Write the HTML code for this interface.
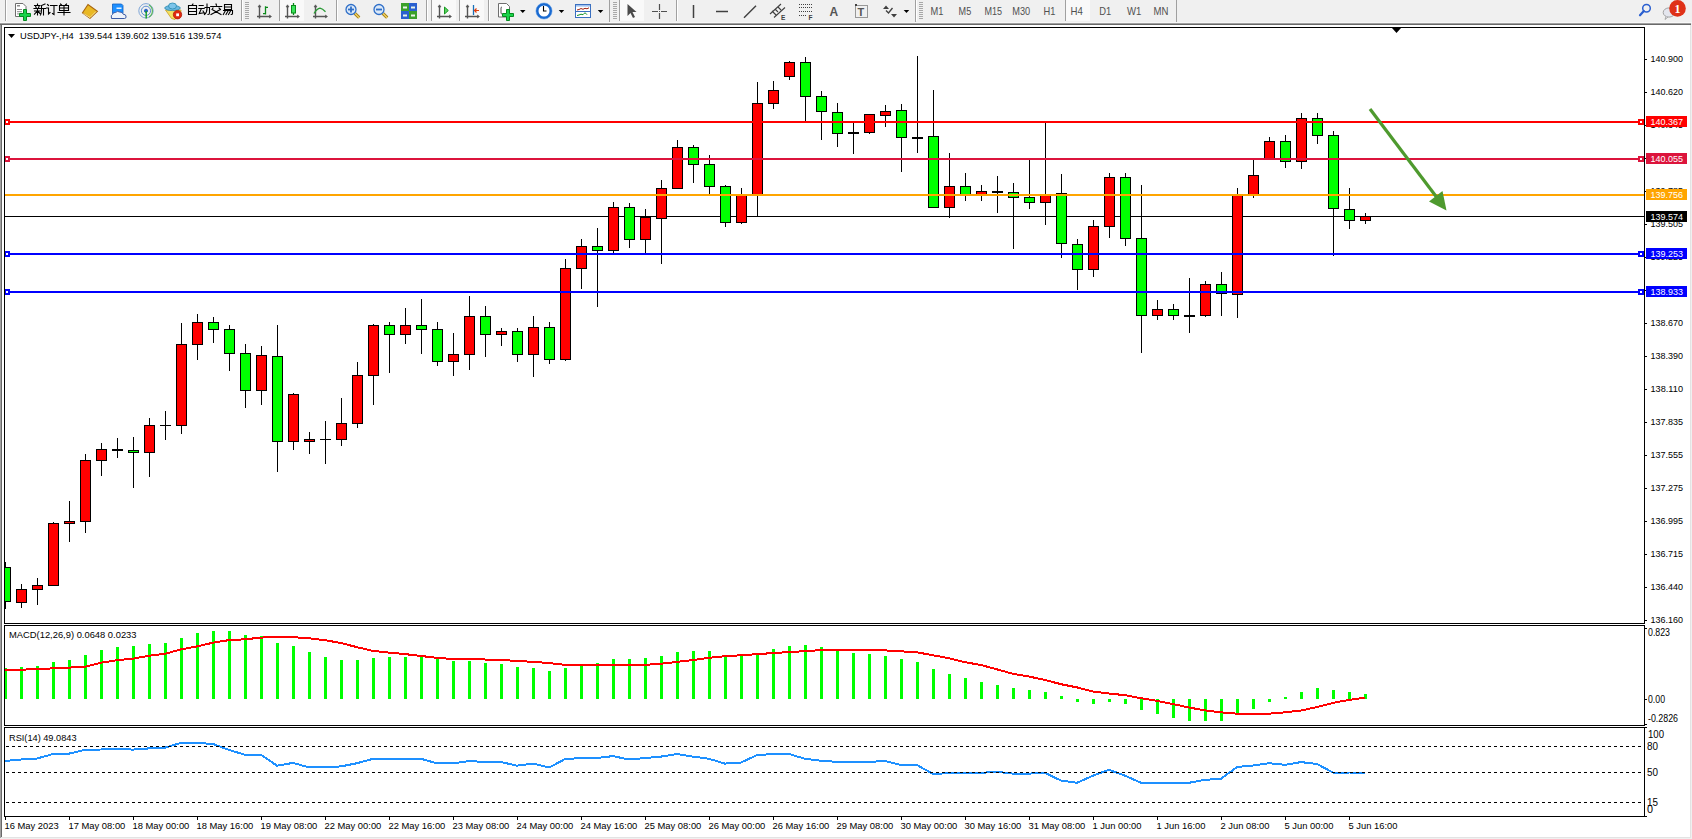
<!DOCTYPE html><html><head><meta charset="utf-8"><style>html,body{margin:0;padding:0;}body{width:1692px;height:839px;overflow:hidden;background:#f0f0f0;position:relative;font-family:"Liberation Sans",sans-serif;}svg{position:absolute;left:0;top:0;}</style></head><body>
<svg width="1692" height="839" viewBox="0 0 1692 839">
<g shape-rendering="crispEdges">
<rect x="0" y="0" width="1692" height="22" fill="#f0f0f0"/>
<rect x="0" y="22" width="1692" height="1" fill="#f8f8f8"/>
<rect x="0" y="23" width="1691" height="1" fill="#a0a0a0"/>
<rect x="0" y="24" width="1691" height="1" fill="#696969"/>
<rect x="0" y="25" width="1" height="814" fill="#a0a0a0"/>
<rect x="1" y="25" width="1" height="812" fill="#696969"/>
<rect x="2" y="25" width="1688" height="812" fill="#ffffff"/>
<rect x="1690" y="25" width="1" height="813" fill="#e3e3e3"/>
<rect x="1" y="837" width="1690" height="1" fill="#e3e3e3"/>
<rect x="1691" y="23" width="1" height="816" fill="#f0f0f0"/>
<rect x="0" y="838" width="1692" height="1" fill="#f0f0f0"/>
<rect x="4" y="27" width="1641" height="1" fill="#000"/>
<rect x="4" y="623" width="1641" height="1" fill="#000"/>
<rect x="4" y="27" width="1" height="597" fill="#000"/>
<rect x="1644" y="27" width="1" height="597" fill="#000"/>
<rect x="4" y="625" width="1641" height="1" fill="#000"/>
<rect x="4" y="725" width="1641" height="1" fill="#000"/>
<rect x="4" y="625" width="1" height="101" fill="#000"/>
<rect x="1644" y="625" width="1" height="101" fill="#000"/>
<rect x="4" y="727" width="1641" height="1" fill="#000"/>
<rect x="4" y="816" width="1641" height="1" fill="#000"/>
<rect x="4" y="727" width="1" height="90" fill="#000"/>
<rect x="1644" y="727" width="1" height="90" fill="#000"/>
</g>
<polygon points="1392,28 1401,28 1396.5,33" fill="#000"/>
<g shape-rendering="crispEdges">
<clipPath id="cm"><rect x="5" y="28" width="1639" height="595"/></clipPath>
<g clip-path="url(#cm)">
<rect x="5" y="216" width="1639" height="1" fill="#000"/>
<rect x="5" y="562" width="1" height="47" fill="#000"/>
<rect x="0" y="567" width="11" height="35" fill="#000"/>
<rect x="1" y="568" width="9" height="33" fill="#00ff00"/>
<rect x="21" y="584" width="1" height="24" fill="#000"/>
<rect x="16" y="589" width="11" height="14" fill="#000"/>
<rect x="17" y="590" width="9" height="12" fill="#ff0000"/>
<rect x="37" y="578" width="1" height="27" fill="#000"/>
<rect x="32" y="585" width="11" height="5" fill="#000"/>
<rect x="33" y="586" width="9" height="3" fill="#ff0000"/>
<rect x="53" y="522" width="1" height="64" fill="#000"/>
<rect x="48" y="523" width="11" height="63" fill="#000"/>
<rect x="49" y="524" width="9" height="61" fill="#ff0000"/>
<rect x="69" y="501" width="1" height="41" fill="#000"/>
<rect x="64" y="521" width="11" height="3" fill="#000"/>
<rect x="65" y="522" width="9" height="1" fill="#ff0000"/>
<rect x="85" y="454" width="1" height="79" fill="#000"/>
<rect x="80" y="460" width="11" height="62" fill="#000"/>
<rect x="81" y="461" width="9" height="60" fill="#ff0000"/>
<rect x="101" y="443" width="1" height="33" fill="#000"/>
<rect x="96" y="449" width="11" height="12" fill="#000"/>
<rect x="97" y="450" width="9" height="10" fill="#ff0000"/>
<rect x="117" y="438" width="1" height="20" fill="#000"/>
<rect x="112" y="449" width="11" height="2" fill="#000"/>
<rect x="133" y="437" width="1" height="51" fill="#000"/>
<rect x="128" y="450" width="11" height="3" fill="#000"/>
<rect x="129" y="451" width="9" height="1" fill="#00ff00"/>
<rect x="149" y="418" width="1" height="59" fill="#000"/>
<rect x="144" y="425" width="11" height="28" fill="#000"/>
<rect x="145" y="426" width="9" height="26" fill="#ff0000"/>
<rect x="165" y="411" width="1" height="29" fill="#000"/>
<rect x="160" y="425" width="11" height="1" fill="#000"/>
<rect x="181" y="323" width="1" height="111" fill="#000"/>
<rect x="176" y="344" width="11" height="82" fill="#000"/>
<rect x="177" y="345" width="9" height="80" fill="#ff0000"/>
<rect x="197" y="314" width="1" height="46" fill="#000"/>
<rect x="192" y="322" width="11" height="23" fill="#000"/>
<rect x="193" y="323" width="9" height="21" fill="#ff0000"/>
<rect x="213" y="317" width="1" height="26" fill="#000"/>
<rect x="208" y="322" width="11" height="8" fill="#000"/>
<rect x="209" y="323" width="9" height="6" fill="#00ff00"/>
<rect x="229" y="325" width="1" height="46" fill="#000"/>
<rect x="224" y="329" width="11" height="25" fill="#000"/>
<rect x="225" y="330" width="9" height="23" fill="#00ff00"/>
<rect x="245" y="344" width="1" height="64" fill="#000"/>
<rect x="240" y="353" width="11" height="38" fill="#000"/>
<rect x="241" y="354" width="9" height="36" fill="#00ff00"/>
<rect x="261" y="346" width="1" height="59" fill="#000"/>
<rect x="256" y="355" width="11" height="36" fill="#000"/>
<rect x="257" y="356" width="9" height="34" fill="#ff0000"/>
<rect x="277" y="325" width="1" height="147" fill="#000"/>
<rect x="272" y="356" width="11" height="86" fill="#000"/>
<rect x="273" y="357" width="9" height="84" fill="#00ff00"/>
<rect x="293" y="393" width="1" height="57" fill="#000"/>
<rect x="288" y="394" width="11" height="48" fill="#000"/>
<rect x="289" y="395" width="9" height="46" fill="#ff0000"/>
<rect x="309" y="432" width="1" height="22" fill="#000"/>
<rect x="304" y="439" width="11" height="3" fill="#000"/>
<rect x="305" y="440" width="9" height="1" fill="#ff0000"/>
<rect x="325" y="421" width="1" height="43" fill="#000"/>
<rect x="320" y="439" width="11" height="1" fill="#000"/>
<rect x="341" y="398" width="1" height="48" fill="#000"/>
<rect x="336" y="423" width="11" height="17" fill="#000"/>
<rect x="337" y="424" width="9" height="15" fill="#ff0000"/>
<rect x="357" y="362" width="1" height="66" fill="#000"/>
<rect x="352" y="375" width="11" height="49" fill="#000"/>
<rect x="353" y="376" width="9" height="47" fill="#ff0000"/>
<rect x="373" y="324" width="1" height="81" fill="#000"/>
<rect x="368" y="325" width="11" height="51" fill="#000"/>
<rect x="369" y="326" width="9" height="49" fill="#ff0000"/>
<rect x="389" y="322" width="1" height="51" fill="#000"/>
<rect x="384" y="325" width="11" height="10" fill="#000"/>
<rect x="385" y="326" width="9" height="8" fill="#00ff00"/>
<rect x="405" y="308" width="1" height="36" fill="#000"/>
<rect x="400" y="325" width="11" height="10" fill="#000"/>
<rect x="401" y="326" width="9" height="8" fill="#ff0000"/>
<rect x="421" y="299" width="1" height="55" fill="#000"/>
<rect x="416" y="325" width="11" height="5" fill="#000"/>
<rect x="417" y="326" width="9" height="3" fill="#00ff00"/>
<rect x="437" y="322" width="1" height="44" fill="#000"/>
<rect x="432" y="329" width="11" height="33" fill="#000"/>
<rect x="433" y="330" width="9" height="31" fill="#00ff00"/>
<rect x="453" y="333" width="1" height="43" fill="#000"/>
<rect x="448" y="354" width="11" height="8" fill="#000"/>
<rect x="449" y="355" width="9" height="6" fill="#ff0000"/>
<rect x="469" y="296" width="1" height="74" fill="#000"/>
<rect x="464" y="316" width="11" height="39" fill="#000"/>
<rect x="465" y="317" width="9" height="37" fill="#ff0000"/>
<rect x="485" y="306" width="1" height="51" fill="#000"/>
<rect x="480" y="316" width="11" height="19" fill="#000"/>
<rect x="481" y="317" width="9" height="17" fill="#00ff00"/>
<rect x="501" y="328" width="1" height="18" fill="#000"/>
<rect x="496" y="331" width="11" height="4" fill="#000"/>
<rect x="497" y="332" width="9" height="2" fill="#ff0000"/>
<rect x="517" y="328" width="1" height="34" fill="#000"/>
<rect x="512" y="331" width="11" height="24" fill="#000"/>
<rect x="513" y="332" width="9" height="22" fill="#00ff00"/>
<rect x="533" y="316" width="1" height="61" fill="#000"/>
<rect x="528" y="327" width="11" height="28" fill="#000"/>
<rect x="529" y="328" width="9" height="26" fill="#ff0000"/>
<rect x="549" y="322" width="1" height="42" fill="#000"/>
<rect x="544" y="327" width="11" height="33" fill="#000"/>
<rect x="545" y="328" width="9" height="31" fill="#00ff00"/>
<rect x="565" y="259" width="1" height="102" fill="#000"/>
<rect x="560" y="268" width="11" height="92" fill="#000"/>
<rect x="561" y="269" width="9" height="90" fill="#ff0000"/>
<rect x="581" y="239" width="1" height="50" fill="#000"/>
<rect x="576" y="246" width="11" height="23" fill="#000"/>
<rect x="577" y="247" width="9" height="21" fill="#ff0000"/>
<rect x="597" y="228" width="1" height="79" fill="#000"/>
<rect x="592" y="246" width="11" height="5" fill="#000"/>
<rect x="593" y="247" width="9" height="3" fill="#00ff00"/>
<rect x="613" y="202" width="1" height="51" fill="#000"/>
<rect x="608" y="207" width="11" height="44" fill="#000"/>
<rect x="609" y="208" width="9" height="42" fill="#ff0000"/>
<rect x="629" y="203" width="1" height="45" fill="#000"/>
<rect x="624" y="207" width="11" height="33" fill="#000"/>
<rect x="625" y="208" width="9" height="31" fill="#00ff00"/>
<rect x="645" y="209" width="1" height="45" fill="#000"/>
<rect x="640" y="217" width="11" height="23" fill="#000"/>
<rect x="641" y="218" width="9" height="21" fill="#ff0000"/>
<rect x="661" y="180" width="1" height="84" fill="#000"/>
<rect x="656" y="188" width="11" height="31" fill="#000"/>
<rect x="657" y="189" width="9" height="29" fill="#ff0000"/>
<rect x="677" y="140" width="1" height="49" fill="#000"/>
<rect x="672" y="147" width="11" height="42" fill="#000"/>
<rect x="673" y="148" width="9" height="40" fill="#ff0000"/>
<rect x="693" y="145" width="1" height="38" fill="#000"/>
<rect x="688" y="147" width="11" height="18" fill="#000"/>
<rect x="689" y="148" width="9" height="16" fill="#00ff00"/>
<rect x="709" y="155" width="1" height="40" fill="#000"/>
<rect x="704" y="164" width="11" height="23" fill="#000"/>
<rect x="705" y="165" width="9" height="21" fill="#00ff00"/>
<rect x="725" y="185" width="1" height="42" fill="#000"/>
<rect x="720" y="186" width="11" height="37" fill="#000"/>
<rect x="721" y="187" width="9" height="35" fill="#00ff00"/>
<rect x="741" y="188" width="1" height="36" fill="#000"/>
<rect x="736" y="194" width="11" height="29" fill="#000"/>
<rect x="737" y="195" width="9" height="27" fill="#ff0000"/>
<rect x="757" y="82" width="1" height="135" fill="#000"/>
<rect x="752" y="103" width="11" height="92" fill="#000"/>
<rect x="753" y="104" width="9" height="90" fill="#ff0000"/>
<rect x="773" y="81" width="1" height="28" fill="#000"/>
<rect x="768" y="90" width="11" height="14" fill="#000"/>
<rect x="769" y="91" width="9" height="12" fill="#ff0000"/>
<rect x="789" y="61" width="1" height="19" fill="#000"/>
<rect x="784" y="62" width="11" height="15" fill="#000"/>
<rect x="785" y="63" width="9" height="13" fill="#ff0000"/>
<rect x="805" y="57" width="1" height="64" fill="#000"/>
<rect x="800" y="62" width="11" height="35" fill="#000"/>
<rect x="801" y="63" width="9" height="33" fill="#00ff00"/>
<rect x="821" y="91" width="1" height="49" fill="#000"/>
<rect x="816" y="96" width="11" height="16" fill="#000"/>
<rect x="817" y="97" width="9" height="14" fill="#00ff00"/>
<rect x="837" y="103" width="1" height="44" fill="#000"/>
<rect x="832" y="112" width="11" height="22" fill="#000"/>
<rect x="833" y="113" width="9" height="20" fill="#00ff00"/>
<rect x="853" y="123" width="1" height="31" fill="#000"/>
<rect x="848" y="132" width="11" height="2" fill="#000"/>
<rect x="869" y="114" width="1" height="20" fill="#000"/>
<rect x="864" y="114" width="11" height="19" fill="#000"/>
<rect x="865" y="115" width="9" height="17" fill="#ff0000"/>
<rect x="885" y="105" width="1" height="22" fill="#000"/>
<rect x="880" y="111" width="11" height="5" fill="#000"/>
<rect x="881" y="112" width="9" height="3" fill="#ff0000"/>
<rect x="901" y="104" width="1" height="68" fill="#000"/>
<rect x="896" y="110" width="11" height="28" fill="#000"/>
<rect x="897" y="111" width="9" height="26" fill="#00ff00"/>
<rect x="917" y="56" width="1" height="97" fill="#000"/>
<rect x="912" y="137" width="11" height="2" fill="#000"/>
<rect x="933" y="90" width="1" height="118" fill="#000"/>
<rect x="928" y="136" width="11" height="72" fill="#000"/>
<rect x="929" y="137" width="9" height="70" fill="#00ff00"/>
<rect x="949" y="153" width="1" height="65" fill="#000"/>
<rect x="944" y="186" width="11" height="22" fill="#000"/>
<rect x="945" y="187" width="9" height="20" fill="#ff0000"/>
<rect x="965" y="173" width="1" height="28" fill="#000"/>
<rect x="960" y="186" width="11" height="10" fill="#000"/>
<rect x="961" y="187" width="9" height="8" fill="#00ff00"/>
<rect x="981" y="185" width="1" height="16" fill="#000"/>
<rect x="976" y="191" width="11" height="5" fill="#000"/>
<rect x="977" y="192" width="9" height="3" fill="#ff0000"/>
<rect x="997" y="176" width="1" height="37" fill="#000"/>
<rect x="992" y="191" width="11" height="2" fill="#000"/>
<rect x="1013" y="183" width="1" height="66" fill="#000"/>
<rect x="1008" y="192" width="11" height="6" fill="#000"/>
<rect x="1009" y="193" width="9" height="4" fill="#00ff00"/>
<rect x="1029" y="159" width="1" height="50" fill="#000"/>
<rect x="1024" y="197" width="11" height="6" fill="#000"/>
<rect x="1025" y="198" width="9" height="4" fill="#00ff00"/>
<rect x="1045" y="122" width="1" height="103" fill="#000"/>
<rect x="1040" y="195" width="11" height="8" fill="#000"/>
<rect x="1041" y="196" width="9" height="6" fill="#ff0000"/>
<rect x="1061" y="174" width="1" height="84" fill="#000"/>
<rect x="1056" y="193" width="11" height="51" fill="#000"/>
<rect x="1057" y="194" width="9" height="49" fill="#00ff00"/>
<rect x="1077" y="239" width="1" height="51" fill="#000"/>
<rect x="1072" y="244" width="11" height="26" fill="#000"/>
<rect x="1073" y="245" width="9" height="24" fill="#00ff00"/>
<rect x="1093" y="220" width="1" height="57" fill="#000"/>
<rect x="1088" y="226" width="11" height="44" fill="#000"/>
<rect x="1089" y="227" width="9" height="42" fill="#ff0000"/>
<rect x="1109" y="173" width="1" height="65" fill="#000"/>
<rect x="1104" y="177" width="11" height="50" fill="#000"/>
<rect x="1105" y="178" width="9" height="48" fill="#ff0000"/>
<rect x="1125" y="173" width="1" height="73" fill="#000"/>
<rect x="1120" y="177" width="11" height="62" fill="#000"/>
<rect x="1121" y="178" width="9" height="60" fill="#00ff00"/>
<rect x="1141" y="185" width="1" height="168" fill="#000"/>
<rect x="1136" y="238" width="11" height="78" fill="#000"/>
<rect x="1137" y="239" width="9" height="76" fill="#00ff00"/>
<rect x="1157" y="300" width="1" height="20" fill="#000"/>
<rect x="1152" y="309" width="11" height="7" fill="#000"/>
<rect x="1153" y="310" width="9" height="5" fill="#ff0000"/>
<rect x="1173" y="304" width="1" height="16" fill="#000"/>
<rect x="1168" y="309" width="11" height="7" fill="#000"/>
<rect x="1169" y="310" width="9" height="5" fill="#00ff00"/>
<rect x="1189" y="278" width="1" height="55" fill="#000"/>
<rect x="1184" y="315" width="11" height="2" fill="#000"/>
<rect x="1205" y="281" width="1" height="36" fill="#000"/>
<rect x="1200" y="284" width="11" height="32" fill="#000"/>
<rect x="1201" y="285" width="9" height="30" fill="#ff0000"/>
<rect x="1221" y="272" width="1" height="44" fill="#000"/>
<rect x="1216" y="284" width="11" height="10" fill="#000"/>
<rect x="1217" y="285" width="9" height="8" fill="#00ff00"/>
<rect x="1237" y="188" width="1" height="130" fill="#000"/>
<rect x="1232" y="195" width="11" height="100" fill="#000"/>
<rect x="1233" y="196" width="9" height="98" fill="#ff0000"/>
<rect x="1253" y="159" width="1" height="39" fill="#000"/>
<rect x="1248" y="175" width="11" height="21" fill="#000"/>
<rect x="1249" y="176" width="9" height="19" fill="#ff0000"/>
<rect x="1269" y="137" width="1" height="23" fill="#000"/>
<rect x="1264" y="141" width="11" height="19" fill="#000"/>
<rect x="1265" y="142" width="9" height="17" fill="#ff0000"/>
<rect x="1285" y="135" width="1" height="33" fill="#000"/>
<rect x="1280" y="141" width="11" height="21" fill="#000"/>
<rect x="1281" y="142" width="9" height="19" fill="#00ff00"/>
<rect x="1301" y="113" width="1" height="56" fill="#000"/>
<rect x="1296" y="118" width="11" height="44" fill="#000"/>
<rect x="1297" y="119" width="9" height="42" fill="#ff0000"/>
<rect x="1317" y="113" width="1" height="31" fill="#000"/>
<rect x="1312" y="118" width="11" height="18" fill="#000"/>
<rect x="1313" y="119" width="9" height="16" fill="#00ff00"/>
<rect x="1333" y="131" width="1" height="125" fill="#000"/>
<rect x="1328" y="135" width="11" height="74" fill="#000"/>
<rect x="1329" y="136" width="9" height="72" fill="#00ff00"/>
<rect x="1349" y="188" width="1" height="41" fill="#000"/>
<rect x="1344" y="209" width="11" height="12" fill="#000"/>
<rect x="1345" y="210" width="9" height="10" fill="#00ff00"/>
<rect x="1365" y="213" width="1" height="11" fill="#000"/>
<rect x="1360" y="216" width="11" height="5" fill="#000"/>
<rect x="1361" y="217" width="9" height="3" fill="#ff0000"/>
<rect x="5" y="121" width="1639" height="2" fill="#ff0000"/>
<rect x="4" y="119" width="6" height="6" fill="#ff0000"/>
<rect x="6" y="121" width="2" height="2" fill="#ffffff"/>
<rect x="1638" y="119" width="6" height="6" fill="#ff0000"/>
<rect x="1640" y="121" width="2" height="2" fill="#ffffff"/>
<rect x="5" y="158" width="1639" height="2" fill="#dc143c"/>
<rect x="4" y="156" width="6" height="6" fill="#dc143c"/>
<rect x="6" y="158" width="2" height="2" fill="#ffffff"/>
<rect x="1638" y="156" width="6" height="6" fill="#dc143c"/>
<rect x="1640" y="158" width="2" height="2" fill="#ffffff"/>
<rect x="5" y="194" width="1639" height="2" fill="#ffa500"/>
<rect x="5" y="253" width="1639" height="2" fill="#0000ff"/>
<rect x="4" y="251" width="6" height="6" fill="#0000ff"/>
<rect x="6" y="253" width="2" height="2" fill="#ffffff"/>
<rect x="1638" y="251" width="6" height="6" fill="#0000ff"/>
<rect x="1640" y="253" width="2" height="2" fill="#ffffff"/>
<rect x="5" y="291" width="1639" height="2" fill="#0000ff"/>
<rect x="4" y="289" width="6" height="6" fill="#0000ff"/>
<rect x="6" y="291" width="2" height="2" fill="#ffffff"/>
<rect x="1638" y="289" width="6" height="6" fill="#0000ff"/>
<rect x="1640" y="291" width="2" height="2" fill="#ffffff"/>
</g>
<clipPath id="cmacd"><rect x="5" y="626" width="1639" height="99"/></clipPath><g clip-path="url(#cmacd)">
<rect x="4" y="668" width="3" height="31" fill="#00ff00"/>
<rect x="20" y="667" width="3" height="32" fill="#00ff00"/>
<rect x="36" y="666" width="3" height="33" fill="#00ff00"/>
<rect x="52" y="662" width="3" height="37" fill="#00ff00"/>
<rect x="68" y="660" width="3" height="39" fill="#00ff00"/>
<rect x="84" y="655" width="3" height="44" fill="#00ff00"/>
<rect x="100" y="650" width="3" height="49" fill="#00ff00"/>
<rect x="116" y="647" width="3" height="52" fill="#00ff00"/>
<rect x="132" y="646" width="3" height="53" fill="#00ff00"/>
<rect x="148" y="644" width="3" height="55" fill="#00ff00"/>
<rect x="164" y="643" width="3" height="56" fill="#00ff00"/>
<rect x="180" y="638" width="3" height="61" fill="#00ff00"/>
<rect x="196" y="633" width="3" height="66" fill="#00ff00"/>
<rect x="212" y="631" width="3" height="68" fill="#00ff00"/>
<rect x="228" y="631" width="3" height="68" fill="#00ff00"/>
<rect x="244" y="635" width="3" height="64" fill="#00ff00"/>
<rect x="260" y="636" width="3" height="63" fill="#00ff00"/>
<rect x="276" y="643" width="3" height="56" fill="#00ff00"/>
<rect x="292" y="646" width="3" height="53" fill="#00ff00"/>
<rect x="308" y="652" width="3" height="47" fill="#00ff00"/>
<rect x="324" y="657" width="3" height="42" fill="#00ff00"/>
<rect x="340" y="660" width="3" height="39" fill="#00ff00"/>
<rect x="356" y="660" width="3" height="39" fill="#00ff00"/>
<rect x="372" y="658" width="3" height="41" fill="#00ff00"/>
<rect x="388" y="657" width="3" height="42" fill="#00ff00"/>
<rect x="404" y="657" width="3" height="42" fill="#00ff00"/>
<rect x="420" y="657" width="3" height="42" fill="#00ff00"/>
<rect x="436" y="659" width="3" height="40" fill="#00ff00"/>
<rect x="452" y="661" width="3" height="38" fill="#00ff00"/>
<rect x="468" y="661" width="3" height="38" fill="#00ff00"/>
<rect x="484" y="663" width="3" height="36" fill="#00ff00"/>
<rect x="500" y="664" width="3" height="35" fill="#00ff00"/>
<rect x="516" y="667" width="3" height="32" fill="#00ff00"/>
<rect x="532" y="668" width="3" height="31" fill="#00ff00"/>
<rect x="548" y="671" width="3" height="28" fill="#00ff00"/>
<rect x="564" y="668" width="3" height="31" fill="#00ff00"/>
<rect x="580" y="665" width="3" height="34" fill="#00ff00"/>
<rect x="596" y="663" width="3" height="36" fill="#00ff00"/>
<rect x="612" y="659" width="3" height="40" fill="#00ff00"/>
<rect x="628" y="659" width="3" height="40" fill="#00ff00"/>
<rect x="644" y="658" width="3" height="41" fill="#00ff00"/>
<rect x="660" y="656" width="3" height="43" fill="#00ff00"/>
<rect x="676" y="652" width="3" height="47" fill="#00ff00"/>
<rect x="692" y="651" width="3" height="48" fill="#00ff00"/>
<rect x="708" y="651" width="3" height="48" fill="#00ff00"/>
<rect x="724" y="655" width="3" height="44" fill="#00ff00"/>
<rect x="740" y="656" width="3" height="43" fill="#00ff00"/>
<rect x="756" y="653" width="3" height="46" fill="#00ff00"/>
<rect x="772" y="649" width="3" height="50" fill="#00ff00"/>
<rect x="788" y="646" width="3" height="53" fill="#00ff00"/>
<rect x="804" y="645" width="3" height="54" fill="#00ff00"/>
<rect x="820" y="647" width="3" height="52" fill="#00ff00"/>
<rect x="836" y="651" width="3" height="48" fill="#00ff00"/>
<rect x="852" y="653" width="3" height="46" fill="#00ff00"/>
<rect x="868" y="654" width="3" height="45" fill="#00ff00"/>
<rect x="884" y="656" width="3" height="43" fill="#00ff00"/>
<rect x="900" y="659" width="3" height="40" fill="#00ff00"/>
<rect x="916" y="662" width="3" height="37" fill="#00ff00"/>
<rect x="932" y="669" width="3" height="30" fill="#00ff00"/>
<rect x="948" y="674" width="3" height="25" fill="#00ff00"/>
<rect x="964" y="678" width="3" height="21" fill="#00ff00"/>
<rect x="980" y="682" width="3" height="17" fill="#00ff00"/>
<rect x="996" y="685" width="3" height="14" fill="#00ff00"/>
<rect x="1012" y="688" width="3" height="11" fill="#00ff00"/>
<rect x="1028" y="690" width="3" height="9" fill="#00ff00"/>
<rect x="1044" y="692" width="3" height="7" fill="#00ff00"/>
<rect x="1060" y="696" width="3" height="3" fill="#00ff00"/>
<rect x="1076" y="699" width="3" height="3" fill="#00ff00"/>
<rect x="1092" y="699" width="3" height="5" fill="#00ff00"/>
<rect x="1108" y="699" width="3" height="3" fill="#00ff00"/>
<rect x="1124" y="699" width="3" height="5" fill="#00ff00"/>
<rect x="1140" y="699" width="3" height="11" fill="#00ff00"/>
<rect x="1156" y="699" width="3" height="15" fill="#00ff00"/>
<rect x="1172" y="699" width="3" height="19" fill="#00ff00"/>
<rect x="1188" y="699" width="3" height="22" fill="#00ff00"/>
<rect x="1204" y="699" width="3" height="22" fill="#00ff00"/>
<rect x="1220" y="699" width="3" height="22" fill="#00ff00"/>
<rect x="1236" y="699" width="3" height="16" fill="#00ff00"/>
<rect x="1252" y="699" width="3" height="10" fill="#00ff00"/>
<rect x="1268" y="699" width="3" height="3" fill="#00ff00"/>
<rect x="1284" y="697" width="3" height="2" fill="#00ff00"/>
<rect x="1300" y="692" width="3" height="7" fill="#00ff00"/>
<rect x="1316" y="688" width="3" height="11" fill="#00ff00"/>
<rect x="1332" y="690" width="3" height="9" fill="#00ff00"/>
<rect x="1348" y="692" width="3" height="7" fill="#00ff00"/>
<rect x="1364" y="694" width="3" height="5" fill="#00ff00"/>
</g>
</g>
<g clip-path="url(#cmacd)"><polyline points="5,669.6 21,669.6 37,669.3 53,668.3 69,667.6 85,666.8 101,662.7 117,660.2 133,658.7 149,655.7 165,653.8 181,649.4 197,646.4 213,642.7 229,640.1 245,639.3 261,637.6 277,636.8 293,637.1 309,638.3 325,640.2 341,643.0 357,647.2 373,650.9 389,652.6 405,654.1 421,656.0 437,657.8 453,659.0 469,659.0 485,659.5 501,660.0 517,660.9 533,661.9 549,663.0 565,664.9 581,664.9 597,664.9 613,664.9 629,664.9 645,664.9 661,663.7 677,661.9 693,660.0 709,657.8 725,656.2 741,655.3 757,654.1 773,653.1 789,652.0 805,651.2 821,650.1 837,650.0 853,650.0 869,650.0 885,650.4 901,651.3 917,652.3 933,655.3 949,658.2 965,662.2 981,665.0 997,669.4 1013,673.8 1029,676.5 1045,680.0 1061,684.2 1077,687.4 1093,691.5 1109,693.5 1125,695.2 1141,698.2 1157,700.9 1173,704.1 1189,707.5 1205,710.4 1221,712.3 1237,713.7 1253,713.7 1269,713.7 1285,712.3 1301,710.6 1317,707.0 1333,702.9 1349,699.9 1365,697.6" fill="none" stroke="#ff0000" stroke-width="2" shape-rendering="crispEdges"/></g>
<polyline points="5,761.0 21,759.5 37,758.5 53,754.0 69,753.6 85,749.9 101,749.5 117,748.9 133,749.6 149,748.4 165,747.7 181,742.8 197,742.8 213,744.0 229,749.9 245,754.8 261,754.8 277,765.7 293,762.9 309,767.4 325,767.4 341,766.4 357,763.2 373,758.8 389,758.8 405,758.8 421,758.8 437,763.4 453,763.4 469,761.0 485,762.0 501,762.0 517,765.7 533,763.6 549,767.6 565,759.1 581,758.0 597,758.0 613,756.1 629,759.5 645,758.0 661,756.6 677,754.0 693,756.6 709,758.8 725,763.6 741,762.5 757,755.1 773,754.0 789,754.0 805,758.8 821,760.7 837,761.9 853,761.9 869,761.9 885,761.0 901,765.0 917,765.0 933,774.0 949,773.1 965,773.1 981,772.8 997,771.9 1013,773.6 1029,773.6 1045,772.8 1061,780.6 1077,782.8 1093,775.7 1109,769.8 1125,775.7 1141,782.8 1157,782.8 1173,782.8 1189,782.8 1205,779.8 1221,778.8 1237,767.0 1253,765.5 1269,763.2 1285,764.8 1301,762.1 1317,764.0 1333,772.5 1349,772.5 1365,772.9" fill="none" stroke="#1e90ff" stroke-width="2" shape-rendering="crispEdges"/>
<g shape-rendering="crispEdges">
<line x1="6" y1="746.5" x2="1641" y2="746.5" stroke="#000" stroke-width="1" stroke-dasharray="3,3"/>
<line x1="6" y1="772.5" x2="1641" y2="772.5" stroke="#000" stroke-width="1" stroke-dasharray="3,3"/>
<line x1="6" y1="802.5" x2="1641" y2="802.5" stroke="#000" stroke-width="1" stroke-dasharray="3,3"/>
</g>
<g fill="#4e9a2e" stroke="none"><line x1="1370" y1="109" x2="1438" y2="199" stroke="#4e9a2e" stroke-width="3.2"/><polygon points="1442.5,191 1429,201.5 1446.5,210.5"/></g>
<g shape-rendering="crispEdges">
<rect x="1645" y="59" width="2" height="1" fill="#000"/>
<rect x="1645" y="92" width="2" height="1" fill="#000"/>
<rect x="1645" y="125" width="2" height="1" fill="#000"/>
<rect x="1645" y="158" width="2" height="1" fill="#000"/>
<rect x="1645" y="191" width="2" height="1" fill="#000"/>
<rect x="1645" y="224" width="2" height="1" fill="#000"/>
<rect x="1645" y="257" width="2" height="1" fill="#000"/>
<rect x="1645" y="290" width="2" height="1" fill="#000"/>
<rect x="1645" y="323" width="2" height="1" fill="#000"/>
<rect x="1645" y="356" width="2" height="1" fill="#000"/>
<rect x="1645" y="389" width="2" height="1" fill="#000"/>
<rect x="1645" y="422" width="2" height="1" fill="#000"/>
<rect x="1645" y="455" width="2" height="1" fill="#000"/>
<rect x="1645" y="488" width="2" height="1" fill="#000"/>
<rect x="1645" y="521" width="2" height="1" fill="#000"/>
<rect x="1645" y="554" width="2" height="1" fill="#000"/>
<rect x="1645" y="587" width="2" height="1" fill="#000"/>
<rect x="1645" y="620" width="2" height="1" fill="#000"/>
<rect x="1645" y="628" width="2" height="1" fill="#000"/>
<rect x="1645" y="699" width="2" height="1" fill="#000"/>
<rect x="1645" y="724" width="2" height="1" fill="#000"/>
<rect x="1645" y="727" width="2" height="1" fill="#000"/>
<rect x="1645" y="816" width="2" height="1" fill="#000"/>
<rect x="5" y="817" width="1" height="3" fill="#000"/>
<rect x="69" y="817" width="1" height="3" fill="#000"/>
<rect x="133" y="817" width="1" height="3" fill="#000"/>
<rect x="197" y="817" width="1" height="3" fill="#000"/>
<rect x="261" y="817" width="1" height="3" fill="#000"/>
<rect x="325" y="817" width="1" height="3" fill="#000"/>
<rect x="389" y="817" width="1" height="3" fill="#000"/>
<rect x="453" y="817" width="1" height="3" fill="#000"/>
<rect x="517" y="817" width="1" height="3" fill="#000"/>
<rect x="581" y="817" width="1" height="3" fill="#000"/>
<rect x="645" y="817" width="1" height="3" fill="#000"/>
<rect x="709" y="817" width="1" height="3" fill="#000"/>
<rect x="773" y="817" width="1" height="3" fill="#000"/>
<rect x="837" y="817" width="1" height="3" fill="#000"/>
<rect x="901" y="817" width="1" height="3" fill="#000"/>
<rect x="965" y="817" width="1" height="3" fill="#000"/>
<rect x="1029" y="817" width="1" height="3" fill="#000"/>
<rect x="1093" y="817" width="1" height="3" fill="#000"/>
<rect x="1157" y="817" width="1" height="3" fill="#000"/>
<rect x="1221" y="817" width="1" height="3" fill="#000"/>
<rect x="1285" y="817" width="1" height="3" fill="#000"/>
<rect x="1349" y="817" width="1" height="3" fill="#000"/>
</g>
<text x="1650.5" y="62.4" font-family="Liberation Sans" font-size="9.6" fill="#000" textLength="32.5" lengthAdjust="spacingAndGlyphs" text-anchor="start" font-weight="normal">140.900</text>
<text x="1650.5" y="95.4" font-family="Liberation Sans" font-size="9.6" fill="#000" textLength="32.5" lengthAdjust="spacingAndGlyphs" text-anchor="start" font-weight="normal">140.620</text>
<text x="1650.5" y="128.4" font-family="Liberation Sans" font-size="9.6" fill="#000" textLength="32.5" lengthAdjust="spacingAndGlyphs" text-anchor="start" font-weight="normal">140.345</text>
<text x="1650.5" y="161.4" font-family="Liberation Sans" font-size="9.6" fill="#000" textLength="32.5" lengthAdjust="spacingAndGlyphs" text-anchor="start" font-weight="normal">140.065</text>
<text x="1650.5" y="194.4" font-family="Liberation Sans" font-size="9.6" fill="#000" textLength="32.5" lengthAdjust="spacingAndGlyphs" text-anchor="start" font-weight="normal">139.785</text>
<text x="1650.5" y="227.4" font-family="Liberation Sans" font-size="9.6" fill="#000" textLength="32.5" lengthAdjust="spacingAndGlyphs" text-anchor="start" font-weight="normal">139.505</text>
<text x="1650.5" y="260.4" font-family="Liberation Sans" font-size="9.6" fill="#000" textLength="32.5" lengthAdjust="spacingAndGlyphs" text-anchor="start" font-weight="normal">139.225</text>
<text x="1650.5" y="293.4" font-family="Liberation Sans" font-size="9.6" fill="#000" textLength="32.5" lengthAdjust="spacingAndGlyphs" text-anchor="start" font-weight="normal">138.945</text>
<text x="1650.5" y="326.4" font-family="Liberation Sans" font-size="9.6" fill="#000" textLength="32.5" lengthAdjust="spacingAndGlyphs" text-anchor="start" font-weight="normal">138.670</text>
<text x="1650.5" y="359.4" font-family="Liberation Sans" font-size="9.6" fill="#000" textLength="32.5" lengthAdjust="spacingAndGlyphs" text-anchor="start" font-weight="normal">138.390</text>
<text x="1650.5" y="392.4" font-family="Liberation Sans" font-size="9.6" fill="#000" textLength="32.5" lengthAdjust="spacingAndGlyphs" text-anchor="start" font-weight="normal">138.110</text>
<text x="1650.5" y="425.4" font-family="Liberation Sans" font-size="9.6" fill="#000" textLength="32.5" lengthAdjust="spacingAndGlyphs" text-anchor="start" font-weight="normal">137.835</text>
<text x="1650.5" y="458.4" font-family="Liberation Sans" font-size="9.6" fill="#000" textLength="32.5" lengthAdjust="spacingAndGlyphs" text-anchor="start" font-weight="normal">137.555</text>
<text x="1650.5" y="491.4" font-family="Liberation Sans" font-size="9.6" fill="#000" textLength="32.5" lengthAdjust="spacingAndGlyphs" text-anchor="start" font-weight="normal">137.275</text>
<text x="1650.5" y="524.4" font-family="Liberation Sans" font-size="9.6" fill="#000" textLength="32.5" lengthAdjust="spacingAndGlyphs" text-anchor="start" font-weight="normal">136.995</text>
<text x="1650.5" y="557.4" font-family="Liberation Sans" font-size="9.6" fill="#000" textLength="32.5" lengthAdjust="spacingAndGlyphs" text-anchor="start" font-weight="normal">136.715</text>
<text x="1650.5" y="590.4" font-family="Liberation Sans" font-size="9.6" fill="#000" textLength="32.5" lengthAdjust="spacingAndGlyphs" text-anchor="start" font-weight="normal">136.440</text>
<text x="1650.5" y="623.4" font-family="Liberation Sans" font-size="9.6" fill="#000" textLength="32.5" lengthAdjust="spacingAndGlyphs" text-anchor="start" font-weight="normal">136.160</text>
<rect x="1646" y="116" width="41" height="11" fill="#ff0000" shape-rendering="crispEdges"/>
<text x="1650.5" y="124.8" font-family="Liberation Sans" font-size="9.6" fill="#fff" textLength="32.5" lengthAdjust="spacingAndGlyphs" text-anchor="start" font-weight="normal">140.367</text>
<rect x="1646" y="153" width="41" height="11" fill="#dc143c" shape-rendering="crispEdges"/>
<text x="1650.5" y="161.8" font-family="Liberation Sans" font-size="9.6" fill="#fff" textLength="32.5" lengthAdjust="spacingAndGlyphs" text-anchor="start" font-weight="normal">140.055</text>
<rect x="1646" y="189" width="41" height="11" fill="#ffa500" shape-rendering="crispEdges"/>
<text x="1650.5" y="197.8" font-family="Liberation Sans" font-size="9.6" fill="#fff" textLength="32.5" lengthAdjust="spacingAndGlyphs" text-anchor="start" font-weight="normal">139.756</text>
<rect x="1646" y="211" width="41" height="11" fill="#000000" shape-rendering="crispEdges"/>
<text x="1650.5" y="219.8" font-family="Liberation Sans" font-size="9.6" fill="#fff" textLength="32.5" lengthAdjust="spacingAndGlyphs" text-anchor="start" font-weight="normal">139.574</text>
<rect x="1646" y="248" width="41" height="11" fill="#0000ff" shape-rendering="crispEdges"/>
<text x="1650.5" y="256.8" font-family="Liberation Sans" font-size="9.6" fill="#fff" textLength="32.5" lengthAdjust="spacingAndGlyphs" text-anchor="start" font-weight="normal">139.253</text>
<rect x="1646" y="286" width="41" height="11" fill="#0000ff" shape-rendering="crispEdges"/>
<text x="1650.5" y="294.8" font-family="Liberation Sans" font-size="9.6" fill="#fff" textLength="32.5" lengthAdjust="spacingAndGlyphs" text-anchor="start" font-weight="normal">138.933</text>
<text x="1648" y="636" font-family="Liberation Sans" font-size="10" fill="#000" textLength="22" lengthAdjust="spacingAndGlyphs" text-anchor="start" font-weight="normal">0.823</text>
<text x="1648" y="703" font-family="Liberation Sans" font-size="10" fill="#000" textLength="17" lengthAdjust="spacingAndGlyphs" text-anchor="start" font-weight="normal">0.00</text>
<text x="1648" y="722" font-family="Liberation Sans" font-size="10" fill="#000" textLength="30" lengthAdjust="spacingAndGlyphs" text-anchor="start" font-weight="normal">-0.2826</text>
<text x="1648" y="738" font-family="Liberation Sans" font-size="10" fill="#000" textLength="16" lengthAdjust="spacingAndGlyphs" text-anchor="start" font-weight="normal">100</text>
<text x="1647" y="750" font-family="Liberation Sans" font-size="10" fill="#000" textLength="11" lengthAdjust="spacingAndGlyphs" text-anchor="start" font-weight="normal">80</text>
<text x="1647" y="776" font-family="Liberation Sans" font-size="10" fill="#000" textLength="11" lengthAdjust="spacingAndGlyphs" text-anchor="start" font-weight="normal">50</text>
<text x="1647" y="806" font-family="Liberation Sans" font-size="10" fill="#000" textLength="11" lengthAdjust="spacingAndGlyphs" text-anchor="start" font-weight="normal">15</text>
<text x="1647" y="813" font-family="Liberation Sans" font-size="10" fill="#000" textLength="6" lengthAdjust="spacingAndGlyphs" text-anchor="start" font-weight="normal">0</text>
<text x="4.5" y="829.3" font-family="Liberation Sans" font-size="9.4" fill="#000">16 May 2023</text>
<text x="68.5" y="829.3" font-family="Liberation Sans" font-size="9.4" fill="#000">17 May 08:00</text>
<text x="132.5" y="829.3" font-family="Liberation Sans" font-size="9.4" fill="#000">18 May 00:00</text>
<text x="196.5" y="829.3" font-family="Liberation Sans" font-size="9.4" fill="#000">18 May 16:00</text>
<text x="260.5" y="829.3" font-family="Liberation Sans" font-size="9.4" fill="#000">19 May 08:00</text>
<text x="324.5" y="829.3" font-family="Liberation Sans" font-size="9.4" fill="#000">22 May 00:00</text>
<text x="388.5" y="829.3" font-family="Liberation Sans" font-size="9.4" fill="#000">22 May 16:00</text>
<text x="452.5" y="829.3" font-family="Liberation Sans" font-size="9.4" fill="#000">23 May 08:00</text>
<text x="516.5" y="829.3" font-family="Liberation Sans" font-size="9.4" fill="#000">24 May 00:00</text>
<text x="580.5" y="829.3" font-family="Liberation Sans" font-size="9.4" fill="#000">24 May 16:00</text>
<text x="644.5" y="829.3" font-family="Liberation Sans" font-size="9.4" fill="#000">25 May 08:00</text>
<text x="708.5" y="829.3" font-family="Liberation Sans" font-size="9.4" fill="#000">26 May 00:00</text>
<text x="772.5" y="829.3" font-family="Liberation Sans" font-size="9.4" fill="#000">26 May 16:00</text>
<text x="836.5" y="829.3" font-family="Liberation Sans" font-size="9.4" fill="#000">29 May 08:00</text>
<text x="900.5" y="829.3" font-family="Liberation Sans" font-size="9.4" fill="#000">30 May 00:00</text>
<text x="964.5" y="829.3" font-family="Liberation Sans" font-size="9.4" fill="#000">30 May 16:00</text>
<text x="1028.5" y="829.3" font-family="Liberation Sans" font-size="9.4" fill="#000">31 May 08:00</text>
<text x="1092.5" y="829.3" font-family="Liberation Sans" font-size="9.4" fill="#000">1 Jun 00:00</text>
<text x="1156.5" y="829.3" font-family="Liberation Sans" font-size="9.4" fill="#000">1 Jun 16:00</text>
<text x="1220.5" y="829.3" font-family="Liberation Sans" font-size="9.4" fill="#000">2 Jun 08:00</text>
<text x="1284.5" y="829.3" font-family="Liberation Sans" font-size="9.4" fill="#000">5 Jun 00:00</text>
<text x="1348.5" y="829.3" font-family="Liberation Sans" font-size="9.4" fill="#000">5 Jun 16:00</text>
<polygon points="8,34 15,34 11.5,38" fill="#000"/>
<text x="20" y="38.6" font-family="Liberation Sans" font-size="9.5" fill="#000" textLength="201.5" lengthAdjust="spacingAndGlyphs" text-anchor="start" font-weight="normal">USDJPY-,H4&#160;&#160;139.544 139.602 139.516 139.574</text>
<text x="9" y="637.8" font-family="Liberation Sans" font-size="9.5" fill="#000" textLength="127.5" lengthAdjust="spacingAndGlyphs" text-anchor="start" font-weight="normal">MACD(12,26,9) 0.0648 0.0233</text>
<text x="9" y="740.8" font-family="Liberation Sans" font-size="9.5" fill="#000" textLength="67.5" lengthAdjust="spacingAndGlyphs" text-anchor="start" font-weight="normal">RSI(14) 49.0843</text>
<rect x="5" y="0" width="1" height="21" fill="#a0a0a0" shape-rendering="crispEdges"/>
<rect x="6" y="0" width="1" height="21" fill="#ffffff" shape-rendering="crispEdges"/>
<rect x="241" y="0" width="1" height="21" fill="#a0a0a0" shape-rendering="crispEdges"/>
<rect x="242" y="0" width="1" height="21" fill="#ffffff" shape-rendering="crispEdges"/>
<rect x="245" y="2" width="4" height="1" fill="#a8a8a8" shape-rendering="crispEdges"/>
<rect x="245" y="4" width="4" height="1" fill="#a8a8a8" shape-rendering="crispEdges"/>
<rect x="245" y="6" width="4" height="1" fill="#a8a8a8" shape-rendering="crispEdges"/>
<rect x="245" y="8" width="4" height="1" fill="#a8a8a8" shape-rendering="crispEdges"/>
<rect x="245" y="10" width="4" height="1" fill="#a8a8a8" shape-rendering="crispEdges"/>
<rect x="245" y="12" width="4" height="1" fill="#a8a8a8" shape-rendering="crispEdges"/>
<rect x="245" y="14" width="4" height="1" fill="#a8a8a8" shape-rendering="crispEdges"/>
<rect x="245" y="16" width="4" height="1" fill="#a8a8a8" shape-rendering="crispEdges"/>
<rect x="245" y="18" width="4" height="1" fill="#a8a8a8" shape-rendering="crispEdges"/>
<rect x="336" y="0" width="1" height="21" fill="#a0a0a0" shape-rendering="crispEdges"/>
<rect x="337" y="0" width="1" height="21" fill="#ffffff" shape-rendering="crispEdges"/>
<rect x="426" y="0" width="1" height="21" fill="#a0a0a0" shape-rendering="crispEdges"/>
<rect x="427" y="0" width="1" height="21" fill="#ffffff" shape-rendering="crispEdges"/>
<rect x="488" y="0" width="1" height="21" fill="#a0a0a0" shape-rendering="crispEdges"/>
<rect x="489" y="0" width="1" height="21" fill="#ffffff" shape-rendering="crispEdges"/>
<rect x="609" y="0" width="1" height="22" fill="#a0a0a0"/>
<rect x="613" y="2" width="4" height="1" fill="#a8a8a8" shape-rendering="crispEdges"/>
<rect x="613" y="4" width="4" height="1" fill="#a8a8a8" shape-rendering="crispEdges"/>
<rect x="613" y="6" width="4" height="1" fill="#a8a8a8" shape-rendering="crispEdges"/>
<rect x="613" y="8" width="4" height="1" fill="#a8a8a8" shape-rendering="crispEdges"/>
<rect x="613" y="10" width="4" height="1" fill="#a8a8a8" shape-rendering="crispEdges"/>
<rect x="613" y="12" width="4" height="1" fill="#a8a8a8" shape-rendering="crispEdges"/>
<rect x="613" y="14" width="4" height="1" fill="#a8a8a8" shape-rendering="crispEdges"/>
<rect x="613" y="16" width="4" height="1" fill="#a8a8a8" shape-rendering="crispEdges"/>
<rect x="613" y="18" width="4" height="1" fill="#a8a8a8" shape-rendering="crispEdges"/>
<rect x="676" y="0" width="1" height="21" fill="#a0a0a0" shape-rendering="crispEdges"/>
<rect x="677" y="0" width="1" height="21" fill="#ffffff" shape-rendering="crispEdges"/>
<rect x="915" y="0" width="1" height="21" fill="#a0a0a0" shape-rendering="crispEdges"/>
<rect x="916" y="0" width="1" height="21" fill="#ffffff" shape-rendering="crispEdges"/>
<rect x="915" y="0" width="1" height="22" fill="#a0a0a0"/>
<rect x="919" y="2" width="4" height="1" fill="#a8a8a8" shape-rendering="crispEdges"/>
<rect x="919" y="4" width="4" height="1" fill="#a8a8a8" shape-rendering="crispEdges"/>
<rect x="919" y="6" width="4" height="1" fill="#a8a8a8" shape-rendering="crispEdges"/>
<rect x="919" y="8" width="4" height="1" fill="#a8a8a8" shape-rendering="crispEdges"/>
<rect x="919" y="10" width="4" height="1" fill="#a8a8a8" shape-rendering="crispEdges"/>
<rect x="919" y="12" width="4" height="1" fill="#a8a8a8" shape-rendering="crispEdges"/>
<rect x="919" y="14" width="4" height="1" fill="#a8a8a8" shape-rendering="crispEdges"/>
<rect x="919" y="16" width="4" height="1" fill="#a8a8a8" shape-rendering="crispEdges"/>
<rect x="919" y="18" width="4" height="1" fill="#a8a8a8" shape-rendering="crispEdges"/>
<rect x="1176" y="0" width="1" height="22" fill="#a0a0a0"/>
<rect x="280" y="0" width="24" height="21" fill="#f9f9f9" shape-rendering="crispEdges"/>
<rect x="279" y="0" width="1" height="21" fill="#a0a0a0" shape-rendering="crispEdges"/>
<rect x="432" y="0" width="24" height="21" fill="#f9f9f9" shape-rendering="crispEdges"/>
<rect x="431" y="0" width="1" height="21" fill="#a0a0a0" shape-rendering="crispEdges"/>
<rect x="460" y="0" width="24" height="21" fill="#f9f9f9" shape-rendering="crispEdges"/>
<rect x="459" y="0" width="1" height="21" fill="#a0a0a0" shape-rendering="crispEdges"/>
<rect x="620" y="0" width="24" height="21" fill="#f9f9f9" shape-rendering="crispEdges"/>
<rect x="619" y="0" width="1" height="21" fill="#a0a0a0" shape-rendering="crispEdges"/>
<rect x="1066" y="0" width="24" height="21" fill="#f9f9f9" shape-rendering="crispEdges"/>
<rect x="1065" y="0" width="1" height="21" fill="#a0a0a0" shape-rendering="crispEdges"/>
<path d="M15.5,3.5 h7.5 l3,3 v10 h-10.5 z" fill="#fff" stroke="#6e6e6e" stroke-width="1"/>
<rect x="17" y="5" width="3" height="1.5" fill="#8a8a8a"/>
<rect x="17" y="9.0" width="5" height="1" fill="#8a8a8a"/>
<rect x="17" y="11.2" width="5" height="1" fill="#8a8a8a"/>
<rect x="17" y="13.4" width="5" height="1" fill="#8a8a8a"/>
<path d="M23.5,9.5 h3 v4 h4 v3 h-4 v4 h-3 v-4 h-4 v-3 h4 z" fill="#19d34a" stroke="#078a20" stroke-width="1"/>
<path d="M37.5,4 v1.2 M34.5,5.5 h5.5 M35.7,6.5 l0.5,1.2 M39,6.5 l-0.5,1.2 M34,8.5 h6.5 M37.5,8.5 v6.5 M34.5,11 h5.5 M37,11.5 l-2.5,2.7 M38,11.5 l2,2 M45,4 l-3.5,1.5 v4 q0,4 -1,5.5 M41.5,8.5 h4 M43.5,8.5 v6.5" fill="none" stroke="#000" stroke-width="1.1" stroke-linecap="square"/>
<path d="M47.5,4.5 l1,1 M46.5,8 h2 v6 l1.5,-1.5 M50.5,5.5 h6.5 M54,5.5 v9 l-1.5,-1" fill="none" stroke="#000" stroke-width="1.1" stroke-linecap="square"/>
<path d="M60.5,4 l1,1 M66.5,4 l-1,1 M59.5,5.5 h9 v5 h-9 z M59.5,8 h9 M64,5.5 v9.5 M58,12.5 h12" fill="none" stroke="#000" stroke-width="1.1" stroke-linecap="square"/>
<path d="M82.5,12.8 L88,4.5 L97.4,11.3 L90,18.4 Z" fill="#e9b824" stroke="#a8650e" stroke-width="1.1"/>
<path d="M83.5,13.5 L90,17.5 L96,11.5" fill="none" stroke="#fff3b0" stroke-width="0.8"/>
<path d="M112.5,4 h9 l1.5,1.5 v8 h-10.5 z" fill="#1e90ff" stroke="#1060c0" stroke-width="0.8"/>
<rect x="116.5" y="7.5" width="5" height="1.5" fill="#e6f2ff"/>
<path d="M111.5,18.5 h13 q2,0 1.5,-2.5 q-0.5,-2 -2.5,-1.5 q-1,-3 -4,-2.5 q-2,-1.5 -4,0.5 q-2.5,-0.5 -3,2 q-2,0.5 -1,4 z" fill="#eef2fa" stroke="#3b5ba5" stroke-width="1"/>
<g fill="none" stroke-width="1"><circle cx="146" cy="10.8" r="7.2" stroke="#7fa6d8"/><circle cx="146" cy="10.8" r="4.6" stroke="#5d8fd0"/><circle cx="146" cy="10.8" r="1.6" fill="#2a62c8" stroke="#2a62c8"/></g>
<path d="M146.2,11 v7.6" stroke="#18a020" stroke-width="1.4"/>
<path d="M149,5 a7,7 0 0 1 0,12" fill="none" stroke="#5ab55a" stroke-width="1.2"/>
<path d="M165.5,10 L181,10 L180.5,14 L175,19.5 L171.5,18.5 Z" fill="#f5e060" stroke="#c9a020" stroke-width="0.8"/>
<ellipse cx="172.5" cy="8" rx="7.8" ry="2.6" fill="#6ab7e0" stroke="#2a8ab0" stroke-width="0.8"/>
<ellipse cx="172.5" cy="6" rx="4" ry="3" fill="#7cc4ea" stroke="#2a8ab0" stroke-width="0.8"/>
<circle cx="177.5" cy="14.7" r="4.2" fill="#e0280e" stroke="#b01a08" stroke-width="0.8"/>
<rect x="176.2" y="13.4" width="2.8" height="2.8" fill="#fff"/>
<path d="M193,4 l-1,1.3 M188.5,5.5 h8 v9 h-8 z M188.5,8.5 h8 M188.5,11.5 h8" fill="none" stroke="#000" stroke-width="1.1" stroke-linecap="square"/>
<path d="M199.2,5.5 h4 M198.7,8.5 h5.5 M201.2,9 l-2,4.5 l5,-0.7 M203,11 l1.3,2 M205,7.5 h4.5 v5.5 q0,1.5 -1.5,1.5 M207,4 v4.5 q0,4 -2.5,6" fill="none" stroke="#000" stroke-width="1.1" stroke-linecap="square"/>
<path d="M216,4 l0.5,1.2 M210.7,6.5 h11 M213,8 l-1,1.5 M219,8 l1.5,1.5 M213,10 l8,4.5 M219.5,10 l-8.5,4.5" fill="none" stroke="#000" stroke-width="1.1" stroke-linecap="square"/>
<path d="M224.5,4.5 h7 v5 h-7 z M224.5,7 h7 M223.5,10.5 h9 v3 q0,1 -1.3,1 M225.5,10.5 l-2.2,4 M228,11 l-2,3.5 M230.5,11 l-2,3.5" fill="none" stroke="#000" stroke-width="1.1" stroke-linecap="square"/>
<g fill="#555" stroke="#555" stroke-width="1.4"><path d="M259.5,6 v12.6 M257,16.5 h13" fill="none"/><path d="M258,7 l1.5,-2.2 l1.5,2.2 z M269.5,15 l2,1.5 l-2,1.5 z" stroke-width="0.6"/></g>
<path d="M265.5,6.2 v8.4 M265.5,7.3 h2.5 M265.5,13.6 h-2.5" fill="none" stroke="#0a8a1a" stroke-width="1.3"/>
<g fill="#555" stroke="#555" stroke-width="1.4"><path d="M287.5,6 v12.6 M285,16.5 h13" fill="none"/><path d="M286,7 l1.5,-2.2 l1.5,2.2 z M297.5,15 l2,1.5 l-2,1.5 z" stroke-width="0.6"/></g>
<path d="M293.5,3 v12" stroke="#0a8a1a" stroke-width="1.3"/><rect x="291.5" y="5.5" width="4" height="7.5" fill="#39e35a" stroke="#0a8a1a" stroke-width="1"/>
<g fill="#555" stroke="#555" stroke-width="1.4"><path d="M315.5,6 v12.6 M313,16.5 h13" fill="none"/><path d="M314,7 l1.5,-2.2 l1.5,2.2 z M325.5,15 l2,1.5 l-2,1.5 z" stroke-width="0.6"/></g>
<path d="M314,13.5 q3,-5 6,-5.3 q2.5,0.5 5.5,3.5" fill="none" stroke="#2a9a35" stroke-width="1.3"/>

<path d="M354.8,13.3 l4.4,4.4" stroke="#a07a10" stroke-width="3.2"/><path d="M354.8,13.3 l4.4,4.4" stroke="#f0d060" stroke-width="1.5"/>
<circle cx="351" cy="9.5" r="5" fill="#dce9f8" stroke="#2f6fc8" stroke-width="1.3"/>
<rect x="348" y="8.6" width="6" height="1.8" fill="#2f6fc8"/>
<rect x="350.1" y="6.5" width="1.8" height="6" fill="#2f6fc8"/>

<path d="M382.8,13.3 l4.4,4.4" stroke="#a07a10" stroke-width="3.2"/><path d="M382.8,13.3 l4.4,4.4" stroke="#f0d060" stroke-width="1.5"/>
<circle cx="379" cy="9.5" r="5" fill="#dce9f8" stroke="#2f6fc8" stroke-width="1.3"/>
<rect x="376" y="8.6" width="6" height="1.8" fill="#2f6fc8"/>
<rect x="401" y="3" width="8" height="8" fill="#3aa02a"/><rect x="403" y="6.5" width="4" height="2" fill="#e8f4e8"/>
<rect x="409" y="3" width="8" height="8" fill="#2a60d0"/><rect x="411" y="6.5" width="4" height="2" fill="#e8f4e8"/>
<rect x="401" y="11" width="8" height="8" fill="#2a60d0"/><rect x="403" y="14.5" width="4" height="2" fill="#e8f4e8"/>
<rect x="409" y="11" width="8" height="8" fill="#3aa02a"/><rect x="411" y="14.5" width="4" height="2" fill="#e8f4e8"/>
<g fill="#555" stroke="#555" stroke-width="1.4"><path d="M439.5,6 v12.6 M437,16.5 h13" fill="none"/><path d="M438,7 l1.5,-2.2 l1.5,2.2 z M449.5,15 l2,1.5 l-2,1.5 z" stroke-width="0.6"/></g>
<path d="M444.5,7 l3.8,3.5 l-3.8,3.5 z" fill="#5ad060" stroke="#179a20" stroke-width="1"/>
<g fill="#555" stroke="#555" stroke-width="1.4"><path d="M467.5,6 v12.6 M465,16.5 h13" fill="none"/><path d="M466,7 l1.5,-2.2 l1.5,2.2 z M477.5,15 l2,1.5 l-2,1.5 z" stroke-width="0.6"/></g>
<path d="M473.5,5 v10" stroke="#1a70b8" stroke-width="1.3"/><path d="M479,10.5 h-4 M476.5,8.5 l-2,2 l2,2" fill="none" stroke="#e04010" stroke-width="1.2"/>
<path d="M498.5,3.5 h8 l3,3 v10.5 h-11 z" fill="#fff" stroke="#6e6e6e" stroke-width="1"/>
<path d="M502,7 q-1,0 -1,1 v5 q0,1 1,1" fill="none" stroke="#555" stroke-width="1"/>
<path d="M506.5,9.5 h3 v4 h4 v3 h-4 v4 h-3 v-4 h-4 v-3 h4 z" fill="#19d34a" stroke="#078a20" stroke-width="1"/>
<path d="M520,10 h5.5 l-2.75,3 z" fill="#000"/>
<path d="M558.7,10 h5.5 l-2.75,3 z" fill="#000"/>
<path d="M597.8,10 h5.5 l-2.75,3 z" fill="#000"/>
<path d="M903.7,10 h5.5 l-2.75,3 z" fill="#000"/>
<circle cx="544" cy="11" r="6.8" fill="#fff" stroke="#1a6ad0" stroke-width="2.6"/><circle cx="544" cy="11" r="8.1" fill="none" stroke="#5a9ae8" stroke-width="0.5"/>
<path d="M543.5,6 v5 h3" fill="none" stroke="#000" stroke-width="1.1"/>
<rect x="575.5" y="4.5" width="15" height="13" fill="#fff" stroke="#3a70c0" stroke-width="1"/><rect x="576" y="5" width="14" height="1.6" fill="#9ec0ee"/><path d="M576,11.5 h14" stroke="#3a70c0" stroke-width="1"/>
<path d="M577,10 l2,-0.5 l2,-1 l2,0.8 l2,-1 l2,0.5 l2,-1" fill="none" stroke="#a02010" stroke-width="1"/><path d="M577,15.5 l2,-0.5 l2,-0.8 l2,0.5 l2,-2 l2,2" fill="none" stroke="#109020" stroke-width="1"/>
<path d="M627.5,4 v12 l3,-3 l2.5,5 l2,-1 l-2.5,-5 h4 z" fill="#4a4a4a"/>
<path d="M659.5,4 v6 M659.5,13 v6 M652,11.5 h6 M661,11.5 h6" stroke="#505050" stroke-width="1.2"/><rect x="659" y="11" width="1" height="1" fill="#505050"/>
<path d="M693.5,5 v13" stroke="#404040" stroke-width="1.5"/>
<path d="M716,11.5 h12" stroke="#404040" stroke-width="1.5"/>
<path d="M744,17.8 L756,5.8" stroke="#404040" stroke-width="1.4"/>
<path d="M770,14 l11,-10 M774,17.5 l11,-10 M772,11 l4,4 M775,9 l3,3 M778,7 l3,3" fill="none" stroke="#404040" stroke-width="1.1"/>
<text x="781" y="19.5" font-family="Liberation Sans" font-size="6.5" font-weight="bold" fill="#404040">E</text>
<path d="M799,4.5 h13 M799,7.5 h13 M799,11.5 h13 M799,15.5 h8" fill="none" stroke="#404040" stroke-width="1" stroke-dasharray="1,1"/>
<text x="808.5" y="20" font-family="Liberation Sans" font-size="6.5" font-weight="bold" fill="#404040">F</text>
<text x="829.5" y="16.3" font-family="Liberation Sans" font-size="12" font-weight="bold" fill="#555">A</text>
<rect x="855.5" y="5.5" width="12" height="12" fill="none" stroke="#404040" stroke-width="1" stroke-dasharray="1,1"/><rect x="855" y="4" width="2" height="2" fill="#404040"/>
<text x="857.5" y="15.8" font-family="Liberation Sans" font-size="11" font-weight="bold" fill="#555">T</text>
<path d="M883,9 l3,-3.5 l3,3.5 z M891,14 l3,3.5 l3,-3.5 z" fill="#404040"/><path d="M886,10.5 l2.5,2.5 l4,-5" fill="none" stroke="#404040" stroke-width="1.3"/>
<circle cx="1646.5" cy="8.2" r="3.8" fill="none" stroke="#2a5fd0" stroke-width="1.5"/><path d="M1643.8,11 l-3.8,4.3" stroke="#2a5fd0" stroke-width="2.2" stroke-linecap="round"/>
<ellipse cx="1669" cy="12.5" rx="5.8" ry="4.6" fill="#e4e6ee" stroke="#9a9a9a" stroke-width="0.9"/><path d="M1666,16.5 l-1,3 l3,-2.5" fill="#e4e6ee" stroke="#9a9a9a" stroke-width="0.8"/>
<circle cx="1677.5" cy="8.4" r="8.3" fill="#df3118"/>
<text x="1677.5" y="12.6" font-family="Liberation Serif" font-size="12" font-weight="bold" fill="#fff" text-anchor="middle">1</text>
<text x="930.5" y="15.1" font-family="Liberation Sans" font-size="10.5" fill="#505050" textLength="12.9" lengthAdjust="spacingAndGlyphs" text-anchor="start" font-weight="normal">M1</text>
<text x="958.6" y="15.1" font-family="Liberation Sans" font-size="10.5" fill="#505050" textLength="12.6" lengthAdjust="spacingAndGlyphs" text-anchor="start" font-weight="normal">M5</text>
<text x="984.4" y="15.1" font-family="Liberation Sans" font-size="10.5" fill="#505050" textLength="17.6" lengthAdjust="spacingAndGlyphs" text-anchor="start" font-weight="normal">M15</text>
<text x="1012.3" y="15.1" font-family="Liberation Sans" font-size="10.5" fill="#505050" textLength="17.9" lengthAdjust="spacingAndGlyphs" text-anchor="start" font-weight="normal">M30</text>
<text x="1043.5" y="15.1" font-family="Liberation Sans" font-size="10.5" fill="#505050" textLength="11.9" lengthAdjust="spacingAndGlyphs" text-anchor="start" font-weight="normal">H1</text>
<text x="1070.6" y="15.1" font-family="Liberation Sans" font-size="10.5" fill="#505050" textLength="12.3" lengthAdjust="spacingAndGlyphs" text-anchor="start" font-weight="normal">H4</text>
<text x="1099.3" y="15.1" font-family="Liberation Sans" font-size="10.5" fill="#505050" textLength="12.0" lengthAdjust="spacingAndGlyphs" text-anchor="start" font-weight="normal">D1</text>
<text x="1126.9" y="15.1" font-family="Liberation Sans" font-size="10.5" fill="#505050" textLength="14.4" lengthAdjust="spacingAndGlyphs" text-anchor="start" font-weight="normal">W1</text>
<text x="1153.5" y="15.1" font-family="Liberation Sans" font-size="10.5" fill="#505050" textLength="14.9" lengthAdjust="spacingAndGlyphs" text-anchor="start" font-weight="normal">MN</text>
</svg>
</body></html>
